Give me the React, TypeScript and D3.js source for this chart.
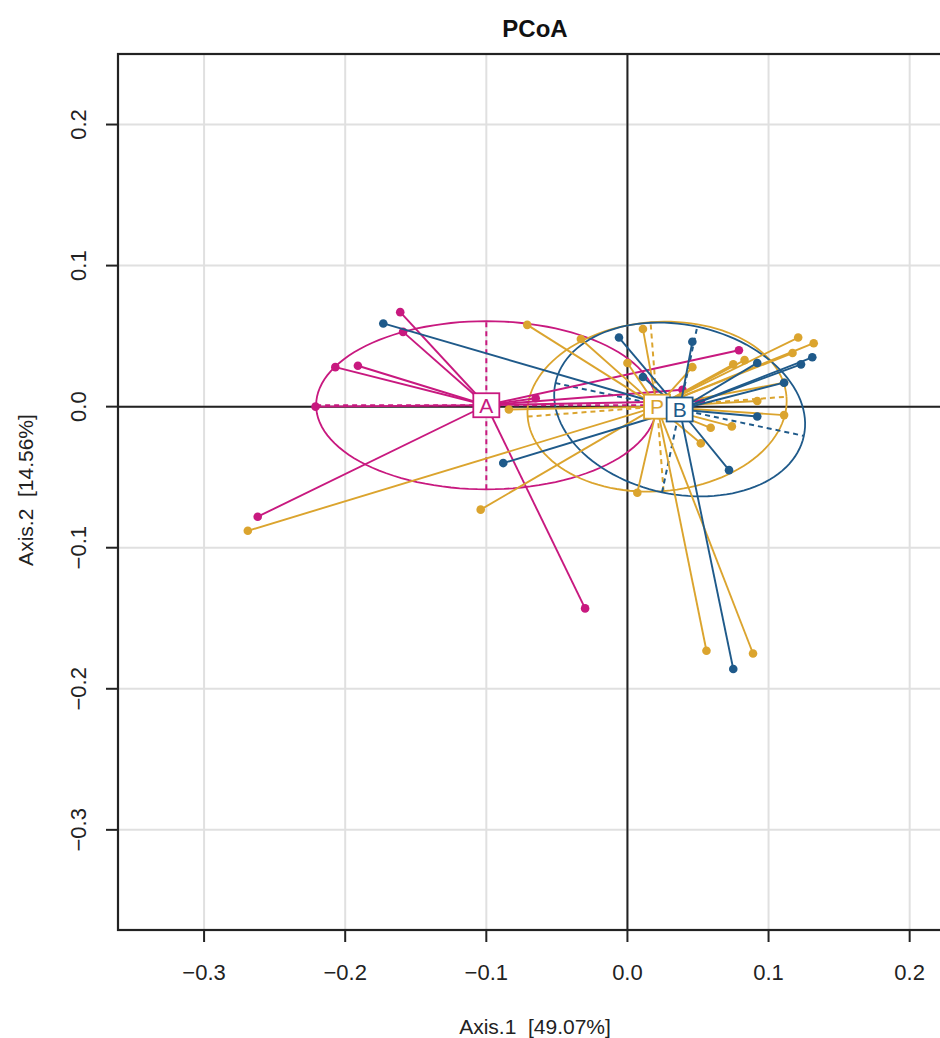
import React from "react";
import * as d3 from "d3";

// groups and colours
const groups = ["A", "P", "B"];
const groupColors = ["#C8197F", "#DBA42E", "#1F5A8A"];

// sample coordinates (Axis.1, Axis.2)
const pointsA = [
  [-0.161, 0.067], [-0.159, 0.053], [-0.207, 0.028], [-0.191, 0.029],
  [-0.221, 0.0], [-0.262, -0.078], [-0.03, -0.143], [-0.065, 0.006],
  [0.079, 0.04], [0.039, 0.012], [0.052, 0.004],
];
const pointsP = [
  [-0.269, -0.088], [-0.104, -0.073], [-0.071, 0.058], [-0.033, 0.048],
  [0.011, 0.055], [0.046, 0.028], [0.121, 0.049], [0.132, 0.045],
  [0.117, 0.038], [0.075, 0.03], [0.083, 0.033], [0.111, 0.017],
  [0.111, -0.006], [0.059, -0.015], [0.074, -0.014], [0.052, -0.026],
  [0.007, -0.061], [0.056, -0.173], [0.089, -0.175], [-0.084, -0.002],
  [0.0, 0.031], [0.092, 0.004],
];
const pointsB = [
  [-0.173, 0.059], [-0.088, -0.04], [-0.006, 0.049], [0.011, 0.021],
  [0.046, 0.046], [0.092, 0.031], [0.123, 0.03], [0.131, 0.035],
  [0.092, -0.007], [0.072, -0.045], [0.075, -0.186], [0.111, 0.017],
];
const groupPoints = [pointsA, pointsP, pointsB];

// class centres and ellipses: [cx, cy, semi-major, semi-minor, angle deg]
const ellipses = [
  [-0.1, 0.001, 0.1206, 0.0596, 0],
  [0.021, 0.0, 0.092, 0.06, 4.4],
  [0.037, -0.002, 0.09, 0.06, -12],
];

const ticks = [-0.3, -0.2, -0.1, 0.0, 0.1, 0.2];
const xLim = [-0.361, 0.23];
const yLim = [-0.371, 0.25];

const W = 940;
const H = 1038;
const plot = { left: 118, right: 952, top: 54, bottom: 930 };
const font = "'Liberation Sans', Arial, sans-serif";

export default function App() {
  const x = d3.scaleLinear().domain(xLim).range([plot.left, plot.right]);
  const y = d3.scaleLinear().domain(yLim).range([plot.bottom, plot.top]);

  const ellipsePath = (e: number[]) => {
    const [cx, cy, a, b, deg] = e;
    const t = (deg * Math.PI) / 180;
    const pts = d3.range(0, 361, 3).map((k) => {
      const u = (k * Math.PI) / 180;
      const ex = a * Math.cos(u);
      const ey = b * Math.sin(u);
      return [cx + ex * Math.cos(t) - ey * Math.sin(t), cy + ex * Math.sin(t) + ey * Math.cos(t)];
    });
    return d3.line().x((d) => x(d[0])).y((d) => y(d[1]))(pts as [number, number][]);
  };

  const ellipseAxes = (e: number[]) => {
    const [cx, cy, a, b, deg] = e;
    const t = (deg * Math.PI) / 180;
    return [
      [cx - a * Math.cos(t), cy - a * Math.sin(t), cx + a * Math.cos(t), cy + a * Math.sin(t)],
      [cx + b * Math.sin(t), cy - b * Math.cos(t), cx - b * Math.sin(t), cy + b * Math.cos(t)],
    ];
  };

  return (
    <svg width={W} height={H} style={{ display: "block", position: "absolute", left: 0, top: 0 }}>
      <rect width={W} height={H} fill="#fff" />
      <defs>
        <clipPath id="plotclip">
          <rect x={plot.left} y={plot.top} width={plot.right - plot.left} height={plot.bottom - plot.top} />
        </clipPath>
      </defs>

      <g clipPath="url(#plotclip)">
        {ticks.map((t) => (
          <line key={"gx" + t} x1={x(t)} x2={x(t)} y1={plot.top} y2={plot.bottom} stroke="#e0e0e0" strokeWidth={2} />
        ))}
        {ticks.map((t) => (
          <line key={"gy" + t} x1={plot.left} x2={plot.right} y1={y(t)} y2={y(t)} stroke="#e0e0e0" strokeWidth={2} />
        ))}
        <line x1={x(0)} x2={x(0)} y1={plot.top} y2={plot.bottom} stroke="#222" strokeWidth={2} />
        <line x1={plot.left} x2={plot.right} y1={y(0)} y2={y(0)} stroke="#222" strokeWidth={2} />

        {ellipses.map((e, i) => (
          <g key={"el" + i} stroke={groupColors[i]} fill="none" strokeWidth={1.8}>
            <path d={ellipsePath(e) || ""} />
            {ellipseAxes(e).map((l, j) => (
              <line key={j} x1={x(l[0])} y1={y(l[1])} x2={x(l[2])} y2={y(l[3])} strokeDasharray="5,4" strokeWidth={2} />
            ))}
          </g>
        ))}

        {groupPoints.map((pts, i) => (
          <g key={"st" + i}>
            {pts.map((p, j) => (
              <line key={j} x1={x(ellipses[i][0])} y1={y(ellipses[i][1])} x2={x(p[0])} y2={y(p[1])}
                stroke={groupColors[i]} strokeWidth={1.9} />
            ))}
            {pts.map((p, j) => (
              <circle key={"c" + j} cx={x(p[0])} cy={y(p[1])} r={4.3} fill={groupColors[i]} />
            ))}
          </g>
        ))}

        {groups.map((g, i) => (
          <g key={"lab" + g} transform={`translate(${x(ellipses[i][0])},${y(ellipses[i][1])})`}>
            <rect x={-13} y={-12} width={26} height={24} fill="#fff" stroke={groupColors[i]} strokeWidth={1.8} />
            <text textAnchor="middle" dy="0.36em" fontFamily={font} fontSize={21} fill={groupColors[i]}>{g}</text>
          </g>
        ))}
      </g>

      <rect x={plot.left} y={plot.top} width={plot.right - plot.left} height={plot.bottom - plot.top}
        fill="none" stroke="#222" strokeWidth={2.2} />

      {ticks.map((t) => (
        <g key={"tx" + t}>
          <line x1={x(t)} x2={x(t)} y1={plot.bottom} y2={plot.bottom + 12} stroke="#222" strokeWidth={2} />
          <text x={x(t)} y={plot.bottom + 50} textAnchor="middle" fontFamily={font} fontSize={22} fill="#222">
            {d3.format(".1f")(t).replace("-", "\u2212")}
          </text>
        </g>
      ))}
      {ticks.map((t) => (
        <g key={"ty" + t}>
          <line x1={plot.left - 12} x2={plot.left} y1={y(t)} y2={y(t)} stroke="#222" strokeWidth={2} />
          <text transform={`translate(${plot.left - 32},${y(t)}) rotate(-90)`} textAnchor="middle"
            fontFamily={font} fontSize={22} fill="#222">
            {d3.format(".1f")(t).replace("-", "\u2212")}
          </text>
        </g>
      ))}

      <text x={535} y={37} textAnchor="middle" fontFamily={font} fontSize={24} fontWeight="bold" fill="#111">PCoA</text>
      <text x={535} y={1034} textAnchor="middle" fontFamily={font} fontSize={21} fill="#222"
        style={{ whiteSpace: "pre" }}>{"Axis.1  [49.07%]"}</text>
      <text transform={`translate(33,490) rotate(-90)`} textAnchor="middle" fontFamily={font} fontSize={21} fill="#222"
        style={{ whiteSpace: "pre" }}>
        {"Axis.2  [14.56%]"}
      </text>
    </svg>
  );
}
